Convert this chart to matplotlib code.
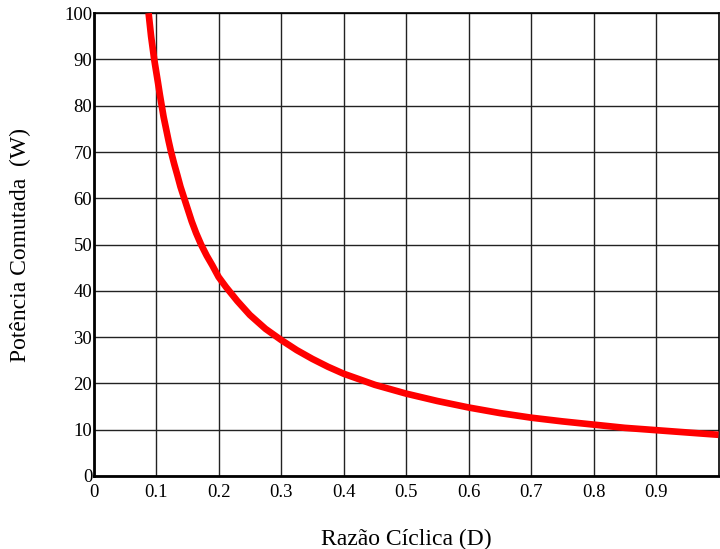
import matplotlib
matplotlib.use("Agg")
from matplotlib import pyplot as plt

# duty cycle and switched power
duty = [0.088, 0.09, 0.092, 0.095, 0.097, 0.1, 0.103, 0.106, 0.109, 0.112,
        0.116, 0.12, 0.124, 0.129, 0.134, 0.139, 0.145, 0.151, 0.157, 0.164,
        0.172, 0.181, 0.19, 0.2, 0.212, 0.23, 0.25, 0.275, 0.3, 0.325,
        0.35, 0.375, 0.4, 0.45, 0.5, 0.55, 0.6, 0.65, 0.7, 0.75,
        0.8, 0.85, 0.9, 0.95, 1.0]
power = [100, 97.5, 95, 92, 90, 87.5, 85, 82.4, 80, 77.6,
         75, 72.4, 70, 67.4, 65, 62.5, 60, 57.5, 55, 52.5,
         50, 47.6, 45.5, 43, 40.8, 37.8, 34.8, 31.8, 29.4, 27.2,
         25.3, 23.6, 22.1, 19.7, 17.8, 16.2, 14.8, 13.6, 12.6, 11.8,
         11.1, 10.4, 9.9, 9.4, 8.9]

x_ticks = [0, 0.1, 0.2, 0.3, 0.4, 0.5, 0.6, 0.7, 0.8, 0.9]
y_ticks = [0, 10, 20, 30, 40, 50, 60, 70, 80, 90, 100]

plt.rcParams["font.family"] = ["Liberation Serif", "DejaVu Serif"]

fig = plt.figure(figsize=(7.2, 5.49), dpi=100)
ax = fig.add_axes([0.13, 0.133, 0.868, 0.843])

ax.plot(duty, power, color="red", linewidth=4.8, solid_capstyle="butt",
        solid_joinstyle="round", zorder=3)

ax.set_xlim(0, 1)
ax.set_ylim(0, 100)
ax.set_xticks(x_ticks)
ax.set_xticklabels([f"{t:g}" for t in x_ticks])
ax.set_yticks(y_ticks)
ax.tick_params(length=0, labelsize=13.5, colors="black")
ax.tick_params(axis="x", pad=6)
ax.tick_params(axis="y", pad=1)

ax.grid(True, color="#222222", linewidth=1.0)
ax.set_axisbelow(True)
for side in ("left", "bottom"):
    ax.spines[side].set_linewidth(2)
for side in ("top", "right"):
    ax.spines[side].set_linewidth(1.2)

ax.set_xlabel("Razão Cíclica (D)", fontsize=17, labelpad=20)
ax.set_ylabel("Potência Comutada  (W)", fontsize=17, labelpad=24)

fig.savefig("out.png", dpi=100)
